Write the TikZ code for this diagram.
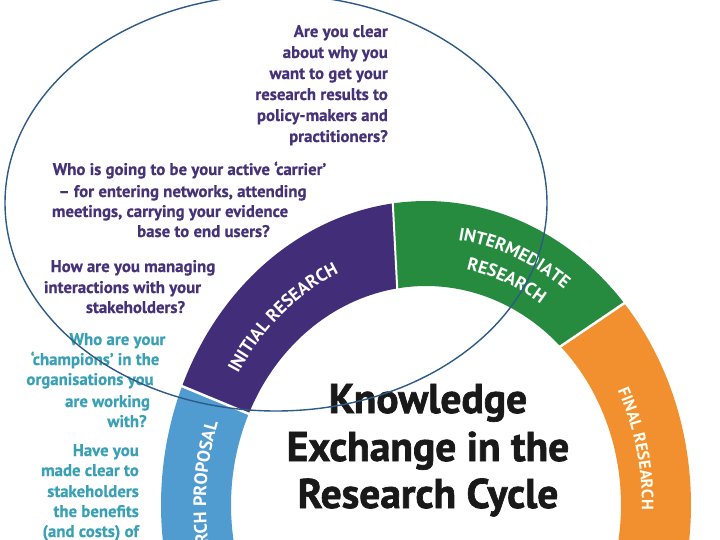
\documentclass[tikz,border=0pt]{standalone}
\usepackage{fontspec}
\setmainfont{PT Sans}
\newfontfamily\titlefam{PT Sans}[BoldFeatures={FakeBold=1.6}]
\newfontfamily\qfam{PT Sans}[BoldFeatures={FakeBold=0.6}]
\usetikzlibrary{decorations.text}
\definecolor{purp}{RGB}{66,45,120}
\definecolor{grn}{RGB}{38,139,62}
\definecolor{orng}{RGB}{242,144,48}
\definecolor{lblue}{RGB}{80,155,208}
\definecolor{ptext}{RGB}{70,50,120}
\definecolor{ttext}{RGB}{58,160,182}
\definecolor{eline}{RGB}{45,90,135}
\newcommand\ringfont{\bfseries\fontsize{18}{18}\selectfont}
\newcommand\ringfontb{\bfseries\fontsize{16.5}{16.5}\selectfont}
\begin{document}
\begin{tikzpicture}[x=1pt,y=-1pt,
  ptxt/.style={text=ptext,font=\qfam\bfseries\fontsize{16.8}{18}\selectfont,inner sep=0pt},
  ttxt/.style={text=ttext,font=\qfam\bfseries\fontsize{16.8}{18}\selectfont,inner sep=0pt},
  title/.style={text=black!90,font=\titlefam\bfseries\fontsize{41.5}{44}\selectfont,inner sep=0pt},
  sepline/.style={white,line width=2.5pt,shorten <=-3pt,shorten >=-3pt},
  elline/.style={eline,line width=1.4pt}]
\useasboundingbox (0,0) rectangle (720,540);
\clip (0,0) rectangle (720,540);
\fill[white] (0,0) rectangle (720,540);
% ring segments
\fill[lblue] plot[domain=157:215,samples=40] ({426+265*cos(\x)},{505-304*sin(\x)})
  -- plot[domain=215:155.4,samples=40] ({426+195*cos(\x)},{505-219*sin(\x)}) -- cycle;
\fill[purp] plot[domain=97.2:157,samples=50] ({426+265*cos(\x)},{505-304*sin(\x)})
  -- plot[domain=155.4:98.5,samples=50] ({426+195*cos(\x)},{505-219*sin(\x)}) -- cycle;
\fill[grn] plot[domain=41.6:97.2,samples=50] ({426+265*cos(\x)},{505-304*sin(\x)})
  -- plot[domain=98.5:46.4,samples=50] ({426+195*cos(\x)},{505-219*sin(\x)}) -- cycle;
\fill[orng] plot[domain=-35:41.6,samples=50] ({426+265*cos(\x)},{505-304*sin(\x)})
  -- plot[domain=46.4:-35,samples=50] ({426+195*cos(\x)},{505-219*sin(\x)}) -- cycle;
% separators
\coordinate (b1o) at (182.1,386.2); \coordinate (b1i) at (248.7,413.8);
\coordinate (b2o) at (392.8,203.4); \coordinate (b2i) at (397.2,288.4);
\coordinate (b3o) at (624.2,303.2); \coordinate (b3i) at (560.5,346.4);
\draw[sepline] (b1o) -- (b1i);
\draw[sepline,line width=2pt] (b2o) -- (b2i);
\draw[sepline] (b3o) -- (b3i);
% ring labels
\path[decorate,decoration={text along path,text color=white,text align=center,
  text={|\ringfont|INITIAL RESEARCH}}]
  plot[domain=166:94,samples=90] ({426+0.83*265*cos(\x)},{505-0.83*304*sin(\x)});
\path[decorate,decoration={text along path,text color=white,text align=center,
  text={|\ringfont|INTERMEDIATE}}]
  plot[domain=100:37,samples=90] ({426+0.88*265*cos(\x)},{505-0.88*304*sin(\x)});
\path[decorate,decoration={text along path,text color=white,text align=center,
  text={|\ringfont|RESEARCH}}]
  plot[domain=100:37,samples=90] ({426+0.79*265*cos(\x)},{505-0.79*304*sin(\x)});
\path[decorate,decoration={text along path,text color=white!95!yellow,text align=center,
  text={|\ringfontb|FINAL RESEARCH}}]
  plot[domain=45:-18,samples=90] ({426+0.815*265*cos(\x)},{505-0.815*304*sin(\x)});
\path[decorate,decoration={text along path,text color=white,text align=right,
  text={|\ringfont|RESEARCH PROPOSAL}}]
  plot[domain=262:161,samples=110] ({426+0.83*265*cos(\x)},{505-0.83*304*sin(\x)});
% title
\node[title,anchor=base] (t1) at (428,413) {Knowledge};
\node[title,anchor=base] (t2) at (428,461) {Exchange in the};
\node[title,anchor=base] (t3) at (428,508) {Research Cycle};
% purple questions
\node[ptxt,anchor=base east] (q1a) at (388,37) {Are you clear};
\node[ptxt,anchor=base east] (q1b) at (388,58) {about why you};
\node[ptxt,anchor=base east] (q1c) at (388,79) {want to get your};
\node[ptxt,anchor=base east] (q1d) at (388,100) {research results to};
\node[ptxt,anchor=base east] (q1e) at (388,121) {policy-makers and};
\node[ptxt,anchor=base east] (q1f) at (388,142) {practitioners?};
\node[ptxt,anchor=base] (q2a) at (189.5,175) {Who is going to be your active ‘carrier’};
\node[ptxt,anchor=base] (q2b) at (182.5,197) {– for entering networks, attending};
\node[ptxt,anchor=base] (q2c) at (170,217) {meetings, carrying your evidence};
\node[ptxt,anchor=base] (q2d) at (203.5,237) {base to end users?};
\node[ptxt,anchor=base] (q3a) at (133,272) {How are you managing};
\node[ptxt,anchor=base] (q3b) at (122.5,293) {interactions with your};
\node[ptxt,anchor=base] (q3c) at (135.5,313) {stakeholders?};
% teal questions
\node[ttxt,anchor=base] (q4a) at (117.5,345) {Who are your};
\node[ttxt,anchor=base] (q4b) at (95,365) {‘champions’ in the};
\node[ttxt,anchor=base] (q4c) at (90,385) {organisations you};
\node[ttxt,anchor=base] (q4d) at (107.5,407) {are working};
\node[ttxt,anchor=base] (q4e) at (127,427) {with?};
\node[ttxt,anchor=base east] (q5a) at (139,456) {Have you};
\node[ttxt,anchor=base east] (q5b) at (139,476) {made clear to};
\node[ttxt,anchor=base east] (q5c) at (139,497) {stakeholders};
\node[ttxt,anchor=base east] (q5d) at (139,517) {the benefits};
\node[ttxt,anchor=base east] (q5e) at (139,537) {(and costs) of};
% big ellipse
\draw[elline] (276,203) ellipse [x radius=271pt, y radius=208pt];
\end{tikzpicture}
\end{document}
